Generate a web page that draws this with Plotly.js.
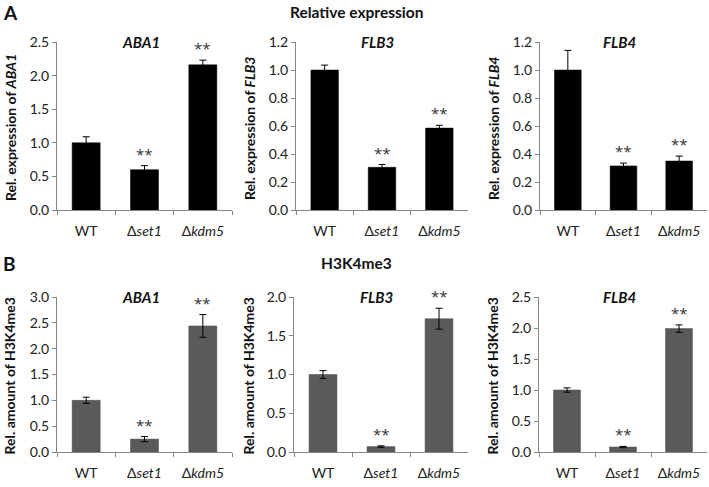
<!DOCTYPE html>
<html>
<head>
<meta charset="utf-8">
<script src="https://cdn.plot.ly/plotly-3.0.1.min.js"></script>
<style>html,body{margin:0;padding:0;background:#fff;}#chart{width:709px;height:487px;}</style>
</head>
<body>
<div id="chart"></div>
<script>
// ---- data ----
const categories = ['WT', 'Δset1', 'Δkdm5'];
const tickLabels = ['WT', 'Δ<i>set1</i>', 'Δ<i>kdm5</i>'];
const significance = ['', '**', '**'];

const exprABA1 = [1.0, 0.6, 2.16];
const exprABA1Err = [0.09, 0.06, 0.07];
const exprFLB3 = [1.0, 0.305, 0.585];
const exprFLB3Err = [0.035, 0.02, 0.02];
const exprFLB4 = [1.0, 0.315, 0.35];
const exprFLB4Err = [0.14, 0.02, 0.035];

const h3ABA1 = [1.0, 0.25, 2.44];
const h3ABA1Err = [0.06, 0.05, 0.22];
const h3FLB3 = [1.0, 0.07, 1.72];
const h3FLB3Err = [0.05, 0.01, 0.135];
const h3FLB4 = [1.0, 0.08, 1.99];
const h3FLB4Err = [0.035, 0.01, 0.06];

const panelGenes = ['ABA1', 'FLB3', 'FLB4', 'ABA1', 'FLB3', 'FLB4'];
const panelValues = [exprABA1, exprFLB3, exprFLB4, h3ABA1, h3FLB3, h3FLB4];
const panelErrors = [exprABA1Err, exprFLB3Err, exprFLB4Err, h3ABA1Err, h3FLB3Err, h3FLB4Err];
const panelRanges = [[0, 2.5], [0, 1.2], [0, 1.2], [0, 3.0], [0, 2.0], [0, 2.5]];
const panelDticks = [0.5, 0.2, 0.2, 0.5, 0.5, 0.5];
const panelYTitles = [
  'Rel. expression of <i>ABA1</i>', 'Rel. expression of <i>FLB3</i>', 'Rel. expression of <i>FLB4</i>',
  'Rel. amount of H3K4me3', 'Rel. amount of H3K4me3', 'Rel. amount of H3K4me3'
];

// ---- layout geometry (pixels) ----
const W = 709, H = 487;
const xPix = [[57, 232], [296, 468], [540, 707], [57, 232], [294, 468], [539, 707]];
const yPix = [[42, 210], [42, 210], [42, 210], [297, 452], [297, 452], [297, 452]];
const yTitleX = [10, 249, 493, 9, 248, 492];
const FONT = 'Lato, "Open Sans", sans-serif';

const data = [];
const layout = {
  width: W, height: H,
  margin: {l: 0, r: 0, t: 0, b: 0},
  paper_bgcolor: '#fff', plot_bgcolor: '#fff',
  showlegend: false,
  font: {family: FONT, size: 14, color: '#333'},
  annotations: []
};

for (let i = 0; i < 6; i++) {
  const n = i === 0 ? '' : String(i + 1);
  const top = i < 3;
  data.push({
    type: 'bar',
    x: categories, y: panelValues[i],
    xaxis: 'x' + n, yaxis: 'y' + n,
    marker: {color: top ? '#000000' : '#5a5a5a', line: {color: top ? '#000' : '#4a4a4a', width: 0.5}},
    error_y: {type: 'data', array: panelErrors[i], visible: true, color: '#000', thickness: 1, width: 3.5},
    hoverinfo: 'none'
  });
  layout['xaxis' + n] = {
    domain: [xPix[i][0] / W, xPix[i][1] / W],
    anchor: 'y' + n,
    type: 'category',
    tickmode: 'array', tickvals: categories, ticktext: tickLabels,
    tickson: 'boundaries', ticks: 'outside', ticklen: 4, tickcolor: '#868686',
    ticklabelstandoff: 8,
    showline: true, linecolor: '#868686', linewidth: 1,
    showgrid: false, zeroline: false,
    tickfont: {family: FONT, size: 14, color: '#222'},
    fixedrange: true
  };
  layout['yaxis' + n] = {
    domain: [1 - yPix[i][1] / H, 1 - yPix[i][0] / H],
    anchor: 'x' + n,
    range: panelRanges[i], dtick: panelDticks[i], tick0: 0, tickformat: '.1f',
    ticks: 'outside', ticklen: 4, tickcolor: '#868686',
    showline: true, linecolor: '#868686', linewidth: 1,
    showgrid: false, zeroline: false,
    tickfont: {family: FONT, size: 14, color: '#222'},
    fixedrange: true
  };
  // gene title
  layout.annotations.push({
    xref: 'paper', yref: 'paper',
    x: ((xPix[i][0] + xPix[i][1]) / 2 - 4) / W, y: 1 - yPix[i][0] / H,
    xanchor: 'center', yanchor: 'middle', showarrow: false,
    text: '<b><i>' + panelGenes[i] + '</i></b>',
    font: {family: FONT, size: 15, color: '#111'}
  });
  // y-axis title
  layout.annotations.push({
    xref: 'paper', yref: 'paper',
    x: yTitleX[i] / W, y: 1 - ((yPix[i][0] + yPix[i][1]) / 2 + 2) / H,
    xanchor: 'center', yanchor: 'middle', showarrow: false, textangle: -90,
    text: '<b>' + panelYTitles[i] + '</b>',
    font: {family: FONT, size: 14, color: '#111'}
  });
  // significance marks
  for (let k = 0; k < categories.length; k++) {
    if (!significance[k]) continue;
    layout.annotations.push({
      xref: 'x' + n, yref: 'y' + n,
      x: categories[k], y: panelValues[i][k] + panelErrors[i][k],
      yshift: 12, xanchor: 'center', yanchor: 'middle', showarrow: false,
      text: significance[k],
      font: {family: '"Open Sans", sans-serif', size: 15, color: '#333'}
    });
  }
}

// section titles and letters
layout.annotations.push(
  {xref: 'paper', yref: 'paper', x: 356 / W, y: 1 - 12 / H, xanchor: 'center', yanchor: 'middle', showarrow: false,
   text: '<b>Relative expression</b>', font: {family: FONT, size: 15.5, color: '#111'}},
  {xref: 'paper', yref: 'paper', x: 356 / W, y: 1 - 263 / H, xanchor: 'center', yanchor: 'middle', showarrow: false,
   text: '<b>H3K4me3</b>', font: {family: FONT, size: 15.5, color: '#111'}},
  {xref: 'paper', yref: 'paper', x: 1 / W, y: 1 - 12 / H, xanchor: 'left', yanchor: 'middle', showarrow: false,
   text: '<b>A</b>', font: {family: FONT, size: 19, color: '#111'}},
  {xref: 'paper', yref: 'paper', x: 1 / W, y: 1 - 263 / H, xanchor: 'left', yanchor: 'middle', showarrow: false,
   text: '<b>B</b>', font: {family: FONT, size: 19, color: '#111'}}
);

layout.bargap = 0.52;

Plotly.newPlot('chart', data, layout, {staticPlot: true, displayModeBar: false});
</script>
</body>
</html>
